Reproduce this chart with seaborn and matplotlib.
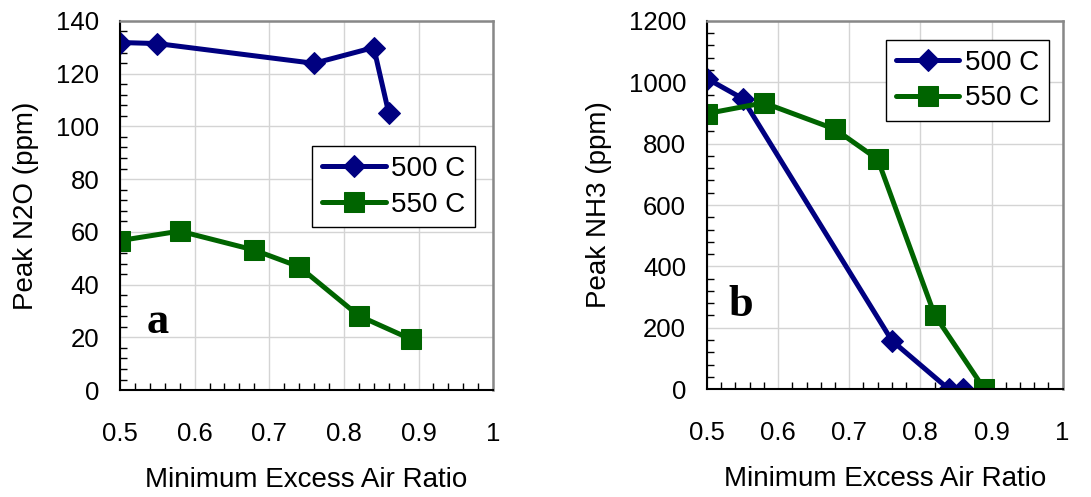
import matplotlib
matplotlib.use("Agg")
import matplotlib.pyplot as plt
import seaborn as sns
import pandas as pd
from matplotlib.ticker import MultipleLocator, FixedLocator

# ---- data ----
series_names = ["500 C", "550 C"]
x_500 = [0.50, 0.55, 0.76, 0.84, 0.86]
x_550 = [0.50, 0.58, 0.68, 0.74, 0.82, 0.89]
n2o_500 = [131.8, 131.4, 123.9, 129.9, 105.2]
n2o_550 = [56.7, 60.3, 53.1, 46.8, 28.2, 19.3]
nh3_500 = [1012, 947, 158, 0, 0]
nh3_550 = [898, 933, 847, 749, 242, 0]
x_ticks = [0.5, 0.6, 0.7, 0.8, 0.9, 1.0]
x_tick_labels = ["0.5", "0.6", "0.7", "0.8", "0.9", "1"]
panel_letters = ["a", "b"]

sns.set_style("white")
plt.rcParams["font.family"] = ["Liberation Sans", "DejaVu Sans"]
plt.rcParams["text.color"] = "black"
plt.rcParams["axes.labelcolor"] = "black"
plt.rcParams["xtick.color"] = "black"
plt.rcParams["ytick.color"] = "black"

colors = {"500 C": "#000080", "550 C": "#006400"}
markers = {"500 C": "D", "550 C": "s"}
msizes = {"500 C": 11, "550 C": 14}

fig = plt.figure(figsize=(10.91, 4.97), dpi=100)
axA = fig.add_axes([0.110, 0.215, 0.342, 0.743])
axB = fig.add_axes([0.648, 0.217, 0.326, 0.741])


def draw(ax, xs_list, ys_list, ylim, ymajor, yminor, ylabel, letter, lx, ly, leg_anchor):
    for name, xs, ys in zip(series_names, xs_list, ys_list):
        df = pd.DataFrame({"x": xs, "y": ys})
        sns.lineplot(data=df, x="x", y="y", ax=ax, color=colors[name],
                     marker=markers[name], markersize=msizes[name],
                     markeredgecolor=colors[name], markerfacecolor=colors[name],
                     linewidth=3.6, label=name, sort=False, errorbar=None)
    ax.set_xlim(0.5, 1.0)
    ax.set_ylim(*ylim)
    ax.xaxis.set_major_locator(FixedLocator(x_ticks))
    ax.set_xticklabels(x_tick_labels)
    ax.xaxis.set_minor_locator(MultipleLocator(0.02))
    ax.yaxis.set_major_locator(MultipleLocator(ymajor))
    ax.yaxis.set_minor_locator(MultipleLocator(yminor))
    ax.grid(True, which="major", color="#d4d4d4", linewidth=1.0)
    ax.set_axisbelow(True)
    ax.tick_params(which="major", direction="inout", length=10, width=1.2,
                   color="black", labelcolor="black", labelsize=18.5)
    ax.tick_params(axis="x", which="major", pad=18)
    ax.tick_params(axis="y", which="major", pad=10)
    ax.tick_params(which="minor", direction="in", length=5, width=1.0,
                   color="black", bottom=True, left=True)
    ax.tick_params(which="both", top=False, right=False)
    for s in ["left", "bottom"]:
        ax.spines[s].set_color("black")
        ax.spines[s].set_linewidth(1.5)
    for s in ["top", "right"]:
        ax.spines[s].set_color("#888888")
        ax.spines[s].set_linewidth(1.8)
    ax.set_xlabel("Minimum Excess Air Ratio", fontsize=20, labelpad=15, color="black")
    ax.set_ylabel(ylabel, fontsize=20, labelpad=12, color="black")
    ax.text(lx, ly, letter, fontsize=32, fontweight="bold", color="black",
            family=["Liberation Serif", "DejaVu Serif"],
            ha="center", va="center")
    leg = ax.legend(loc="upper left", bbox_to_anchor=leg_anchor, borderaxespad=0,
                    fontsize=20, frameon=True, fancybox=False, framealpha=1,
                    edgecolor="black", handlelength=2.3, handletextpad=0.2,
                    labelspacing=0.35, borderpad=0.35)
    leg.get_frame().set_linewidth(1.0)
    for t in leg.get_texts():
        t.set_color("black")


draw(axA, [x_500, x_550], [n2o_500, n2o_550], (0, 140), 20, 4,
     "Peak N2O (ppm)", panel_letters[0], 0.55, 26, (0.515, 0.661))
draw(axB, [x_500, x_550], [nh3_500, nh3_550], (0, 1200), 200, 40,
     "Peak NH3 (ppm)", panel_letters[1], 0.548, 275, (0.503, 0.948))

fig.savefig("out.png", dpi=100)
